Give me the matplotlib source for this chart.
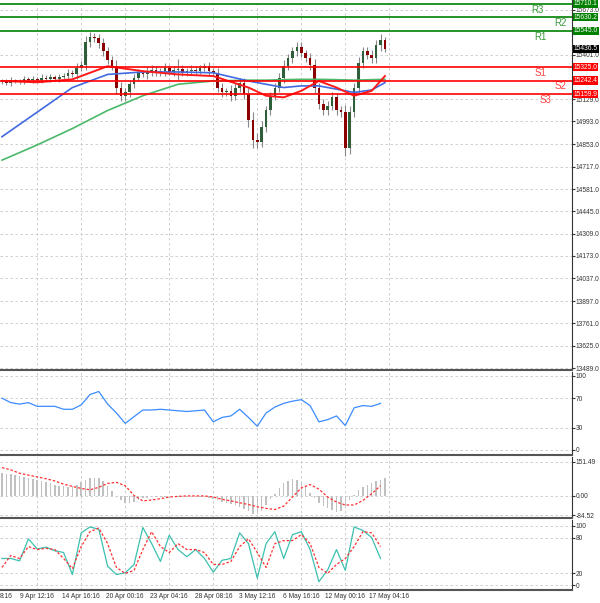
import numpy as np
import matplotlib
matplotlib.use("Agg")
import matplotlib.pyplot as plt

plt.rcParams["font.family"] = ["Liberation Sans", "DejaVu Sans"]

# ---- data ----
closes = [15240, 15230, 15245, 15235, 15240, 15250, 15245, 15255, 15248, 15260,
          15252, 15262, 15255, 15265, 15270, 15290, 15280, 15320, 15340, 15480,
          15510, 15500, 15470, 15420, 15370, 15330, 15200, 15150, 15170, 15220,
          15260, 15290, 15280, 15300, 15310, 15290, 15300, 15320, 15295, 15305,
          15315, 15290, 15300, 15310, 15300, 15320, 15330, 15300, 15290, 15200,
          15170, 15180, 15150, 15200, 15230, 15160, 15000, 14880, 14870, 14960,
          15060, 15150, 15200, 15260, 15330, 15380, 15420, 15450, 15410, 15380,
          15340, 15200, 15100, 15060, 15090, 15140, 15060, 15050, 14830, 15050,
          15200, 15350, 15420, 15400, 15380, 15460, 15490, 15436.5]
opens = [15235] + closes[:-1]
wicks = [15, 12, 18, 10, 14, 20, 12, 16, 10, 22, 14, 18, 12, 20, 16, 25, 18, 30, 22, 35,
         30, 25, 28, 30, 25, 20, 40, 35, 30, 25, 20, 22, 18, 25, 30, 20, 22, 28, 18, 24,
         60, 20, 22, 25, 18, 20, 22, 25, 20, 30, 25, 20, 35, 25, 30, 28, 40, 50, 40, 35,
         30, 25, 28, 30, 35, 25, 30, 28, 25, 22, 30, 35, 30, 28, 25, 30, 25, 30, 45, 35,
         30, 35, 30, 25, 28, 30, 35, 20]

ma_x = [0, 8, 16, 24, 32, 40, 48, 56, 60, 64, 68, 72, 76, 80, 84, 87]
ma_fast = [15240, 15232, 15250, 15330, 15300, 15280, 15270, 15200, 15150, 15140,
           15180, 15240, 15200, 15150, 15180, 15270]
ma_mid = [14900, 15050, 15200, 15280, 15295, 15295, 15290, 15240, 15220, 15200,
          15210, 15210, 15190, 15170, 15185, 15230]
ma_slow = [14757, 14850, 14950, 15060, 15150, 15220, 15240, 15245, 15245, 15248,
           15250, 15250, 15248, 15245, 15248, 15250]

levels = [15710.1, 15630.2, 15545.0, 15325.0, 15242.4, 15159.9]
level_names = ["R3", "R2", "R1", "S1", "S2", "S3"]
price_ticks = [15673.0, 15401.0, 15129.0, 14993.0, 14853.0, 14717.0, 14581.0, 14445.0,
               14309.0, 14173.0, 14037.0, 13897.0, 13761.0, 13625.0, 13489.0]

rsi = [70, 64, 62, 64, 59, 59, 59, 55, 55, 61, 75, 79, 62, 50, 36, 45, 54, 54, 55, 54,
       53, 52, 53, 54, 38, 44, 46, 55, 44, 32, 50, 58, 63, 66, 68, 60, 38, 41, 46, 33,
       57, 60, 59, 63]

macd_hist = [100, 98, 95, 92, 88, 85,
             80, 75, 70, 65, 60, 55, 50, 45, 42,
             40, 42, 50, 60, 70,
             78, 80, 78, 65, 45,
             20, -5, -20, -30, -32, -28,
             -18, -10, -8, -6, -5, -4, -3, -2, -2, -3, -4, -3, -2, -3, -4, -5, -8,
             -15, -20, -25, -30, -35, -42, -50, -58, -68, -78, -80, -65,
             -40, -15, 10, 35, 55,
             68, 75, 72, 60, 40, 15,
             -10, -30, -45, -55, -62, -70, -65, -45,
             -20, 5, 25, 40, 50, 58, 65, 72, 80]
macd_signal = [125, 115, 100, 92, 84, 76, 66, 52, 42, 33, 27, 38, 55, 60, 45, 2, -22, -18,
               -12, -5, -2, 0, 0, 0, -5, -15, -22, -30, -38, -48, -55, -60, -45, -5, 35,
               50, 30, -5, -27, -40, -40, -20, 10, 45]

stoch_k = [45, 45, 41, 78, 61, 64, 58, 55, 18, 88, 98, 94, 32, 18, 21, 35, 97, 70, 40, 84,
           60, 48, 60, 45, 22, 42, 45, 88, 70, 12, 70, 90, 45, 85, 90, 60, 6, 26, 60, 25,
           98, 92, 80, 45]
stoch_d = [30, 50, 45, 65, 60, 62, 60, 45, 28, 65, 90, 96, 70, 30, 20, 25, 60, 90, 65, 55,
           70, 60, 60, 55, 35, 35, 40, 65, 78, 55, 30, 70, 75, 75, 85, 70, 30, 20, 35, 45,
           65, 90, 88, 65]

date_labels = ["9 Apr 12:16", "14 Apr 16:16", "20 Apr 00:16", "23 Apr 04:16",
               "28 Apr 08:16", "3 May 12:16", "6 May 16:16", "12 May 00:16", "17 May 04:16"]
date_pos = [8, 18, 28, 38, 48, 58, 68, 78, 88]

# ---- figure ----
fig = plt.figure(figsize=(6, 6.03), dpi=100)
W = 572 / 600
H = 603
def panel(top, bot):
    return fig.add_axes([0, 1 - bot / H, W, (bot - top) / H])

ax = panel(0, 370)
ax_rsi = panel(372, 455)
ax_macd = panel(457, 518)
ax_st = panel(520, 590)
xlim = (-0.45, 129.5)
grid_kw = dict(color="#c8c8c8", linestyle=(0, (3, 3)), linewidth=0.6)
FS = 4.8

for a in (ax, ax_rsi, ax_macd, ax_st):
    a.set_xlim(*xlim)
    a.set_xticks(date_pos)
    a.set_xticklabels([])
    a.tick_params(axis="x", length=0)
    a.yaxis.tick_right()
    a.tick_params(axis="y", labelsize=FS, length=2, pad=0.5, colors="#333333")
    a.grid(True, **grid_kw)
    for s in ("left", "top"):
        a.spines[s].set_visible(False)
    a.spines["bottom"].set_linewidth(1.5)
    a.spines["bottom"].set_color("#555555")
    a.spines["right"].set_color("#333333")

# main price panel
ax.set_ylim(13477, 15734)
ax.set_yticks(price_ticks)
ax.set_yticklabels([f"{v:.1f}" for v in price_ticks])
x = np.arange(len(closes))
for i in x:
    o, c, w = opens[i], closes[i], wicks[i]
    ax.vlines(i, min(o, c) - w, max(o, c) + w, color="#888888", linewidth=0.8, zorder=2)
    col = "#2e5e3a" if c >= o else "#8b0000"
    ax.bar(i, abs(c - o) or 3, bottom=min(o, c), width=0.6, color=col, zorder=3)
ax.plot(ma_x, ma_slow, color="#4cb86a", linewidth=1.2, zorder=4)
ax.plot(ma_x, ma_mid, color="#4169e1", linewidth=1.2, zorder=4)
ax.plot(ma_x, ma_fast, color="#ff1a1a", linewidth=1.4, zorder=5)

label_x = [121.6, 126.8, 122.3, 122.3, 126.8, 123.4]
for lv, nm, lx in zip(levels, level_names, label_x):
    col = "green" if nm.startswith("R") else "red"
    ax.axhline(lv, color=col, linewidth=1.2, zorder=6)
    ax.text(lx, lv - 35, nm, color="#3a9a3a" if col == "green" else "#ff4040",
            fontsize=7, ha="center", va="center")
    ax.text(1.003, lv, f"{lv:.1f}", transform=ax.get_yaxis_transform(), fontsize=FS,
            color="white", va="center", ha="left", zorder=10, clip_on=False,
            bbox=dict(boxstyle="square,pad=0.1", fc=col, ec="none"))
ax.text(1.003, closes[-1], f"{closes[-1]:.1f}", transform=ax.get_yaxis_transform(),
        fontsize=FS, color="white", va="center", ha="left", clip_on=False, zorder=10,
        bbox=dict(boxstyle="square,pad=0.1", fc="black", ec="none"))

# RSI
xs2 = np.arange(0, 88, 2)
ax_rsi.set_ylim(-6.8, 105.4)
ax_rsi.set_yticks([0, 30, 70, 100])
ax_rsi.plot(xs2, rsi, color="#3b8cff", linewidth=0.9)

# MACD
ax_macd.set_ylim(-97.4, 171.7)
ax_macd.set_yticks([-84.52, 0.0, 151.49])
ax_macd.set_yticklabels(["-84.52", "0.00", "151.49"])
ax_macd.bar(x, macd_hist, width=0.35, color="#c0c0c0")
ax_macd.plot(xs2, macd_signal, color="#ff3030", linewidth=0.9, linestyle=(0, (2, 1.5)))

# Stochastic
ax_st.set_ylim(-7.9, 109.6)
ax_st.set_yticks([0, 20, 80, 100])
ax_st.plot(xs2, stoch_k, color="#3cc0b0", linewidth=0.9)
ax_st.plot(xs2, stoch_d, color="#ff3030", linewidth=0.9, linestyle=(0, (2, 1.5)))
for p, lab in zip(date_pos, date_labels):
    ax_st.text(p, -0.05, lab, transform=ax_st.get_xaxis_transform(), fontsize=FS,
               ha="center", va="top", color="#333333")
fig.text(0.0, 1 - 597 / H, "8:16", fontsize=FS, va="center", ha="left", color="#333333")

fig.savefig("out.png", dpi=100)
